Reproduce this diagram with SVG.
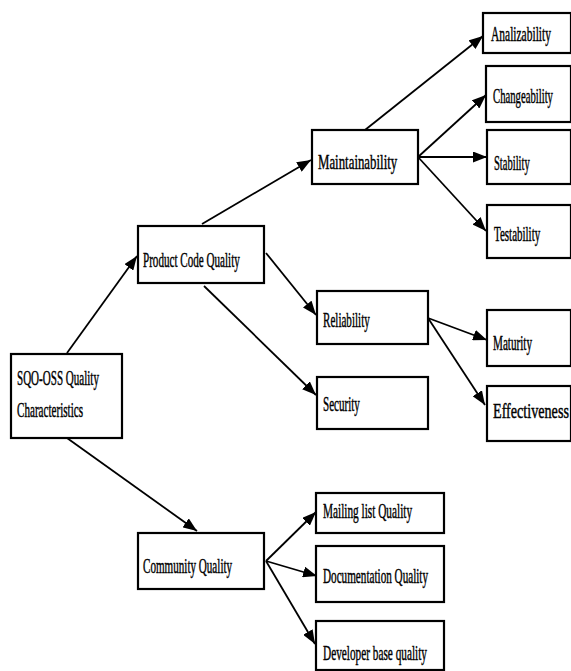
<svg xmlns="http://www.w3.org/2000/svg" width="571" height="671" viewBox="0 0 571 671">
<defs>
<marker id="arr" markerUnits="userSpaceOnUse" markerWidth="15" markerHeight="11" refX="14" refY="5.5" orient="auto">
<path d="M0,0 L14,5.5 L0,11 Z" fill="#000"/>
</marker>
<style>
.box{fill:#fff;stroke:#000;stroke-width:2.2}
.lbl{font-family:"Liberation Serif","Times New Roman",serif;font-size:21px;fill:#000;stroke:#000;stroke-width:0.45}
.con line{stroke:#000;stroke-width:1.8;marker-end:url(#arr)}
</style>
</defs>
<rect width="571" height="671" fill="#fff"/>
<g class="con" id="connectors">
<line x1="67" y1="353" x2="137" y2="256"/>
<line x1="67" y1="438" x2="197" y2="531"/>
<line x1="202" y1="224" x2="311" y2="160"/>
<line x1="266" y1="253" x2="316" y2="315"/>
<line x1="204" y1="286" x2="316" y2="395"/>
<line x1="365" y1="130" x2="483" y2="36"/>
<line x1="418" y1="157" x2="486" y2="95"/>
<line x1="418" y1="157" x2="487" y2="157"/>
<line x1="418" y1="157" x2="486" y2="231"/>
<line x1="428" y1="318" x2="487" y2="340"/>
<line x1="428" y1="318" x2="485" y2="405"/>
<line x1="266" y1="561" x2="316" y2="512"/>
<line x1="266" y1="561" x2="317" y2="576"/>
<line x1="266" y1="561" x2="315" y2="644"/>
</g>
<g id="sqo"><rect class="box" x="11" y="354" width="111" height="84"/>
<text class="lbl" transform="translate(17,385) scale(0.55,1)" textLength="149" lengthAdjust="spacingAndGlyphs">SQO-OSS Quality</text>
<text class="lbl" transform="translate(17,417) scale(0.55,1)" textLength="120" lengthAdjust="spacingAndGlyphs">Characteristics</text></g>
<g id="pcq"><rect class="box" x="138" y="226" width="126" height="57"/>
<text class="lbl" transform="translate(143,267) scale(0.55,1)" textLength="176" lengthAdjust="spacingAndGlyphs">Product Code Quality</text></g>
<g id="maint"><rect class="box" x="312" y="130" width="106" height="54"/>
<text class="lbl" transform="translate(318,169) scale(0.55,1)" textLength="144" lengthAdjust="spacingAndGlyphs">Maintainability</text></g>
<g id="anal"><rect class="box" x="483" y="13" width="88" height="40"/>
<text class="lbl" transform="translate(491,41) scale(0.55,1)" textLength="109" lengthAdjust="spacingAndGlyphs">Analizability</text></g>
<g id="change"><rect class="box" x="486" y="66" width="85" height="56"/>
<text class="lbl" transform="translate(493,103) scale(0.55,1)" textLength="109" lengthAdjust="spacingAndGlyphs">Changeability</text></g>
<g id="stab"><rect class="box" x="487" y="130" width="84" height="54"/>
<text class="lbl" transform="translate(494,170) scale(0.55,1)" textLength="65" lengthAdjust="spacingAndGlyphs">Stability</text></g>
<g id="test"><rect class="box" x="487" y="205" width="84" height="53"/>
<text class="lbl" transform="translate(494,241) scale(0.55,1)" textLength="84" lengthAdjust="spacingAndGlyphs">Testability</text></g>
<g id="rel"><rect class="box" x="317" y="291" width="111" height="53"/>
<text class="lbl" transform="translate(323,327) scale(0.55,1)" textLength="85" lengthAdjust="spacingAndGlyphs">Reliability</text></g>
<g id="sec"><rect class="box" x="317" y="377" width="111" height="52"/>
<text class="lbl" transform="translate(323,411) scale(0.55,1)" textLength="67" lengthAdjust="spacingAndGlyphs">Security</text></g>
<g id="mat"><rect class="box" x="487" y="310" width="84" height="56"/>
<text class="lbl" transform="translate(493,350) scale(0.55,1)" textLength="71" lengthAdjust="spacingAndGlyphs">Maturity</text></g>
<g id="eff"><rect class="box" x="487" y="386" width="84" height="55"/>
<text class="lbl" transform="translate(493,418) scale(0.55,1)" textLength="138" lengthAdjust="spacingAndGlyphs">Effectiveness</text></g>
<g id="comm"><rect class="box" x="138" y="533" width="126" height="56"/>
<text class="lbl" transform="translate(143,573) scale(0.55,1)" textLength="162" lengthAdjust="spacingAndGlyphs">Community Quality</text></g>
<g id="mail"><rect class="box" x="316" y="493" width="128" height="40"/>
<text class="lbl" transform="translate(323,518) scale(0.55,1)" textLength="162" lengthAdjust="spacingAndGlyphs">Mailing list Quality</text></g>
<g id="doc"><rect class="box" x="316" y="546" width="128" height="56"/>
<text class="lbl" transform="translate(323,583) scale(0.55,1)" textLength="191" lengthAdjust="spacingAndGlyphs">Documentation Quality</text></g>
<g id="dev"><rect class="box" x="316" y="621" width="128" height="49"/>
<text class="lbl" transform="translate(323,660) scale(0.55,1)" textLength="189" lengthAdjust="spacingAndGlyphs">Developer base quality</text></g>
</svg>
